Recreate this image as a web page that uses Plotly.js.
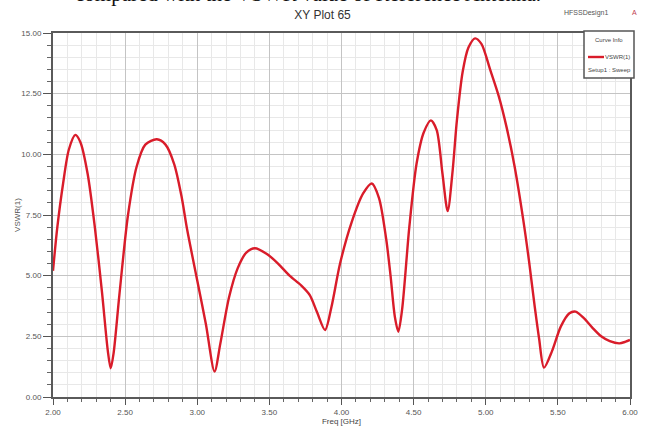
<!DOCTYPE html>
<html>
<head>
<meta charset="utf-8">
<script src="https://cdn.plot.ly/plotly-3.0.1.min.js"></script>
<style>html,body{margin:0;padding:0;background:#fff;}#chart{width:649px;height:428px;}</style>
</head>
<body>
<div id="chart"></div>
<script>
// Frequency (GHz)
const freq = [2.00, 2.03, 2.07, 2.11, 2.155, 2.19, 2.24, 2.29, 2.34, 2.38, 2.40, 2.42, 2.46, 2.52, 2.58, 2.64, 2.72, 2.78, 2.84, 2.89, 2.93, 3.00, 3.06, 3.12, 3.16, 3.22, 3.28, 3.34, 3.40, 3.48, 3.56, 3.64, 3.72, 3.78, 3.83, 3.886, 3.93, 3.99, 4.07, 4.15, 4.21, 4.26, 4.31, 4.34, 4.37, 4.394, 4.42, 4.47, 4.52, 4.57, 4.62, 4.66, 4.70, 4.736, 4.77, 4.80, 4.84, 4.88, 4.926, 4.97, 5.03, 5.09, 5.145, 5.20, 5.26, 5.30, 5.34, 5.37, 5.404, 5.46, 5.52, 5.58, 5.623, 5.68, 5.74, 5.80, 5.86, 5.926, 5.97, 6.00];
// VSWR(1)
const vswr = [5.2, 7.0, 8.8, 10.2, 10.8, 10.5, 9.2, 7.0, 4.3, 1.9, 1.18, 1.8, 4.2, 7.5, 9.5, 10.4, 10.62, 10.4, 9.6, 8.3, 6.9, 4.8, 3.0, 1.05, 2.2, 4.1, 5.3, 5.95, 6.13, 5.9, 5.5, 5.0, 4.6, 4.2, 3.5, 2.76, 3.7, 5.5, 7.2, 8.39, 8.8, 8.2, 6.5, 5.0, 3.3, 2.69, 3.6, 7.0, 9.6, 10.9, 11.4, 11.0, 9.2, 7.66, 9.3, 11.4, 13.4, 14.4, 14.78, 14.55, 13.5, 12.4, 11.1, 9.5, 7.3, 5.6, 3.7, 2.4, 1.21, 1.9, 2.9, 3.45, 3.52, 3.25, 2.85, 2.5, 2.3, 2.21, 2.28, 2.35];
const xTickVals = [2.0, 2.5, 3.0, 3.5, 4.0, 4.5, 5.0, 5.5, 6.0];
const xTickText = ["2.00", "2.50", "3.00", "3.50", "4.00", "4.50", "5.00", "5.50", "6.00"];
const yTickVals = [0, 2.5, 5, 7.5, 10, 12.5, 15];
const yTickText = ["0.00", "2.50", "5.00", "7.50", "10.00", "12.50", "15.00"];

const L = 53, R = 630, T = 33, B = 397;
const px = v => (v - L) / (R - L);
const py = v => (B - v) / (B - T);
const narrow = "Liberation Sans Narrow, Liberation Sans, Arial, sans-serif";

const trace = {
  x: freq, y: vswr, type: 'scatter', mode: 'lines',
  line: {color: '#d91c2a', width: 2.4, shape: 'spline', smoothing: 0.8},
  showlegend: false, hoverinfo: 'skip'
};

const layout = {
  width: 649, height: 428,
  margin: {l: L, r: 649 - R, t: T, b: 428 - B, pad: 0},
  paper_bgcolor: '#ffffff', plot_bgcolor: '#ffffff',
  showlegend: false,
  title: {text: 'XY Plot 65', x: 0.497, xanchor: 'center', y: 1 - 15 / 428, yanchor: 'middle',
          font: {family: narrow, size: 12, color: '#333'}},
  xaxis: {
    range: [2, 6], tickmode: 'array', tickvals: xTickVals, ticktext: xTickText,
    showgrid: true, gridcolor: '#c4c4c4', gridwidth: 1,
    minor: {dtick: 0.1, tick0: 2, showgrid: true, gridcolor: '#e8e8e8', ticks: 'outside', ticklen: 3, tickcolor: '#666'},
    ticks: 'outside', ticklen: 6, tickcolor: '#555',
    showline: true, linecolor: '#5a5a5a', linewidth: 2, mirror: true,
    zeroline: false,
    tickfont: {family: narrow, size: 8, color: '#555'},
    title: {text: 'Freq [GHz]', standoff: 0, font: {family: narrow, size: 8, color: '#444'}}
  },
  yaxis: {
    range: [0, 15], tickmode: 'array', tickvals: yTickVals, ticktext: yTickText,
    showgrid: true, gridcolor: '#c4c4c4', gridwidth: 1,
    minor: {dtick: 0.5, tick0: 0, showgrid: true, gridcolor: '#e8e8e8', ticks: 'outside', ticklen: 4, tickcolor: '#666'},
    ticks: 'outside', ticklen: 8, tickcolor: '#555',
    showline: true, linecolor: '#5a5a5a', linewidth: 2, mirror: true,
    zeroline: false,
    tickfont: {family: narrow, size: 8, color: '#555'},
    title: {text: 'VSWR(1)', standoff: 0, font: {family: narrow, size: 8, color: '#555'}}
  },
  shapes: [
    {type: 'rect', xref: 'paper', yref: 'paper', x0: px(584), x1: px(634), y0: py(78), y1: py(31),
     line: {color: '#555', width: 1.5}, fillcolor: '#ffffff', layer: 'above'},
    {type: 'line', xref: 'paper', yref: 'paper', x0: px(588), x1: px(604), y0: py(57), y1: py(57),
     line: {color: '#d91c2a', width: 2.4}, layer: 'above'}
  ],
  annotations: [
    {text: 'compared with the VSWR value of Reference Antenna.', xref: 'paper', yref: 'paper',
     x: px(73), y: py(8), xanchor: 'left', yanchor: 'bottom', showarrow: false,
     font: {family: 'Liberation Serif, Times New Roman, serif', size: 21, color: '#111'}},
    {text: 'HFSSDesign1', xref: 'paper', yref: 'paper', x: px(586), y: py(13), xanchor: 'center', yanchor: 'middle',
     showarrow: false, font: {family: narrow, size: 7, color: '#555'}},
    {text: 'A', xref: 'paper', yref: 'paper', x: px(634), y: py(13), xanchor: 'center', yanchor: 'middle',
     showarrow: false, font: {family: narrow, size: 7, color: '#c04050'}},
    {text: 'Curve Info', xref: 'paper', yref: 'paper', x: px(609), y: py(40), xanchor: 'center', yanchor: 'middle',
     showarrow: false, font: {family: narrow, size: 6, color: '#444'}},
    {text: 'VSWR(1)', xref: 'paper', yref: 'paper', x: px(632), y: py(57), xanchor: 'right', yanchor: 'middle',
     showarrow: false, font: {family: narrow, size: 6, color: '#444'}},
    {text: 'Setup1 : Sweep', xref: 'paper', yref: 'paper', x: px(609), y: py(70), xanchor: 'center', yanchor: 'middle',
     showarrow: false, font: {family: narrow, size: 6, color: '#444'}}
  ]
};

Plotly.newPlot('chart', [trace], layout, {staticPlot: true, displayModeBar: false});
</script>
</body>
</html>
